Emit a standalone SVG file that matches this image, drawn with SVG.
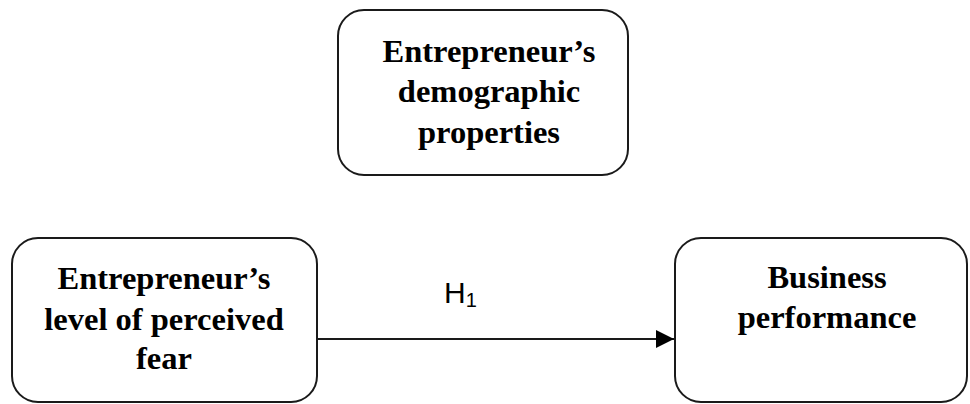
<svg xmlns="http://www.w3.org/2000/svg" width="970" height="404" viewBox="0 0 970 404">
<style>
.box{fill:#fff;stroke:#1a1a1a;stroke-width:2}
.t{font-family:"Liberation Serif","Times New Roman",serif;font-weight:bold;font-size:32.5px;fill:#000;text-anchor:middle}
.h{font-family:"Liberation Sans",Arial,sans-serif;font-size:30px;fill:#000}
.c{stroke:#1a1a1a;stroke-width:2;fill:none}
</style>
<defs>
<marker id="ah" viewBox="0 0 18 18" refX="18" refY="9" markerWidth="18" markerHeight="18" markerUnits="userSpaceOnUse" orient="auto">
<path d="M0,0 L18,9 L0,18 Z" fill="#000"/>
</marker>
</defs>
<rect width="970" height="404" fill="#fff"/>
<g id="demographic">
<rect class="box" x="338" y="10" width="290" height="165" rx="26"/>
<text class="t" x="489" y="62">Entrepreneur’s</text>
<text class="t" x="489" y="102">demographic</text>
<text class="t" x="489" y="143">properties</text>
</g>
<g id="fear">
<rect class="box" x="12" y="238" width="305" height="164" rx="26"/>
<text class="t" x="164" y="289">Entrepreneur’s</text>
<text class="t" x="164" y="330">level of perceived</text>
<text class="t" x="164" y="369">fear</text>
</g>
<g id="performance">
<rect class="box" x="675" y="238" width="292" height="164" rx="26"/>
<text class="t" x="827" y="288">Business</text>
<text class="t" x="827" y="328">performance</text>
</g>
<g id="connectors">
<line class="c" x1="317" y1="339" x2="674" y2="339" marker-end="url(#ah)"/>
<text class="h" x="444" y="303">H<tspan font-size="20" dy="4">1</tspan></text>
</g>
</svg>
